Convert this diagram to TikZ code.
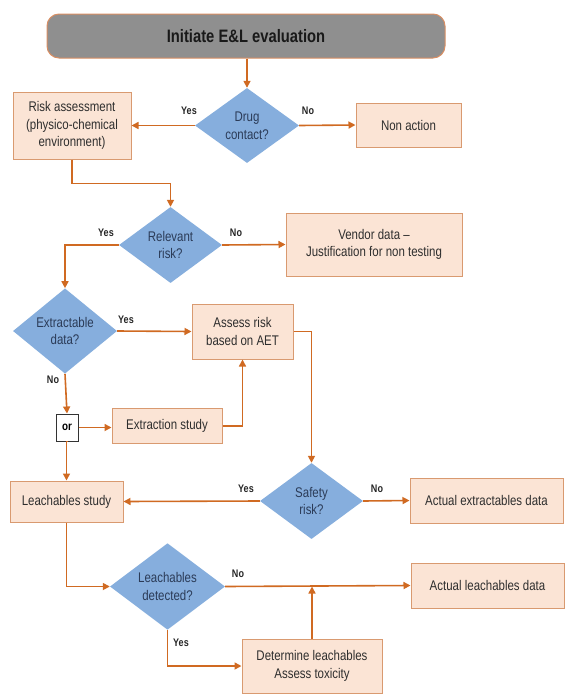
\documentclass[tikz,border=0pt]{standalone}
\usepackage{fontspec}
\setmainfont{Liberation Sans}[FakeStretch=0.82]
\usetikzlibrary{shapes.geometric,arrows.meta,calc}
\definecolor{boxfill}{HTML}{FBE4D5}
\definecolor{boxline}{HTML}{D99A70}
\definecolor{arrowc}{HTML}{D06A22}
\definecolor{diafill}{HTML}{86AEDD}
\definecolor{diatext}{HTML}{2B3B57}
\definecolor{boxtext}{HTML}{2E2E2E}
\definecolor{startfill}{HTML}{8F8F8F}
\definecolor{startline}{HTML}{D98E63}
\tikzset{
  box/.style={draw=boxline, fill=boxfill, line width=1pt, text=boxtext, align=center,
    inner sep=0pt, font=\fontsize{14}{17.5}\selectfont},
  dia/.style={diamond, fill=diafill, draw=none, text=diatext, align=center,
    inner sep=0pt, font=\fontsize{14}{17.5}\selectfont},
  startbox/.style={draw=startline, fill=startfill, line width=1pt, rounded corners=12pt,
    text=black!90, inner sep=0pt, font=\bfseries\fontsize{18}{20}\selectfont},
  orbox/.style={draw=black!80, fill=white, line width=1pt, inner sep=0pt,
    font=\bfseries\fontsize{12}{14}\selectfont},
  conn/.style={draw=arrowc, line width=1.6pt},
  arr/.style={conn, -{Triangle[length=7pt,width=7pt]}},
  lbl/.style={font=\bfseries\fontsize{11}{13}\selectfont, text=black!85, inner sep=0pt},
}
\begin{document}
\begin{tikzpicture}[x=1pt,y=1pt]
\useasboundingbox (0,0) rectangle (565,-694);
% nodes
\node[startbox, minimum width=398pt, minimum height=44pt] (start) at (246,-36) {Initiate E\&L evaluation};
\node[dia, minimum width=104pt, minimum height=75pt] (drug) at (247,-125.5) {Drug\\contact?};
\node[box, minimum width=118pt, minimum height=67pt] (risk) at (72,-125.5) {Risk assessment\\(physico-chemical\\environment)};
\node[box, minimum width=105pt, minimum height=44pt] (nonact) at (408.5,-125) {Non action};
\node[dia, minimum width=103pt, minimum height=76pt] (rel) at (170.5,-245) {Relevant\\risk?};
\node[box, minimum width=176pt, minimum height=63pt] (vendor) at (374,-244.5) {Vendor data –\\Justification for non testing};
\node[dia, minimum width=104pt, minimum height=76pt] (extr) at (65,-331) {Extractable\\data?};
\node[box, minimum width=101pt, minimum height=55pt] (assess) at (242.5,-331.5) {Assess risk\\based on AET};
\node[orbox, minimum width=22pt, minimum height=27pt] (orb) at (67,-427.5) {or};
\node[box, minimum width=110pt, minimum height=35pt] (extraction) at (167,-426) {Extraction study};
\node[box, minimum width=113pt, minimum height=41pt] (lstudy) at (66.5,-501.5) {Leachables study};
\node[dia, minimum width=103pt, minimum height=76pt] (safety) at (311.5,-501) {Safety\\risk?};
\node[box, minimum width=153pt, minimum height=45pt] (actext) at (486.5,-500.5) {Actual extractables data};
\node[dia, minimum width=115pt, minimum height=83pt] (ldet) at (167.5,-586.5) {Leachables\\detected?};
\node[box, minimum width=153pt, minimum height=45pt] (actleach) at (487.5,-585.5) {Actual leachables data};
\node[box, minimum width=140pt, minimum height=54pt] (determine) at (312,-666) {Determine leachables\\Assess toxicity};
% labels
\node[lbl] (l1) at (189,-111) {Yes};
\node[lbl] (l2) at (308,-111) {No};
\node[lbl] (l3) at (106,-233) {Yes};
\node[lbl] (l4) at (236,-233) {No};
\node[lbl] (l5) at (126,-320) {Yes};
\node[lbl] (l6) at (53,-380) {No};
\node[lbl] (l7) at (246,-489) {Yes};
\node[lbl] (l8) at (377,-489) {No};
\node[lbl] (l9) at (238,-574) {No};
\node[lbl] (l10) at (181,-643) {Yes};
% connectors
\draw[arr] (drug.north |- start.south) -- (drug.north);
\draw[arr] (drug.west) -- (risk.east);
\draw[arr] (drug.east) -- (nonact.west);
\coordinate (c1) at ($(risk.south)+(0,-24)$);
\draw[arr] (risk.south) -- (c1) -| (rel.north);
\draw[arr] (rel.west) -| (extr.north);
\draw[arr] (rel.east) -- (vendor.west);
\draw[arr] (extr.east) -- (assess.west);
\draw[arr] (assess.east) -| (safety.north);
\draw[arr] (extr.south) -- (orb.north);
\draw[arr] (orb.east) -- (orb.east -| extraction.west);
\draw[arr] (extraction.east) -| (assess.south);
\draw[arr] (orb.south) -- (lstudy.north |- orb.south) -- (lstudy.north);
\draw[arr] (safety.west) -- (lstudy.east);
\draw[arr] (safety.east) -- (actext.west);
\draw[arr] (lstudy.south) |- (ldet.west);
\draw[arr] (ldet.east) -- (actleach.west);
\draw[arr] (ldet.south) |- (determine.west);
\coordinate (j1) at (determine.north |- ldet.east);
\draw[arr] (determine.north) -- (j1);
\end{tikzpicture}
\end{document}
